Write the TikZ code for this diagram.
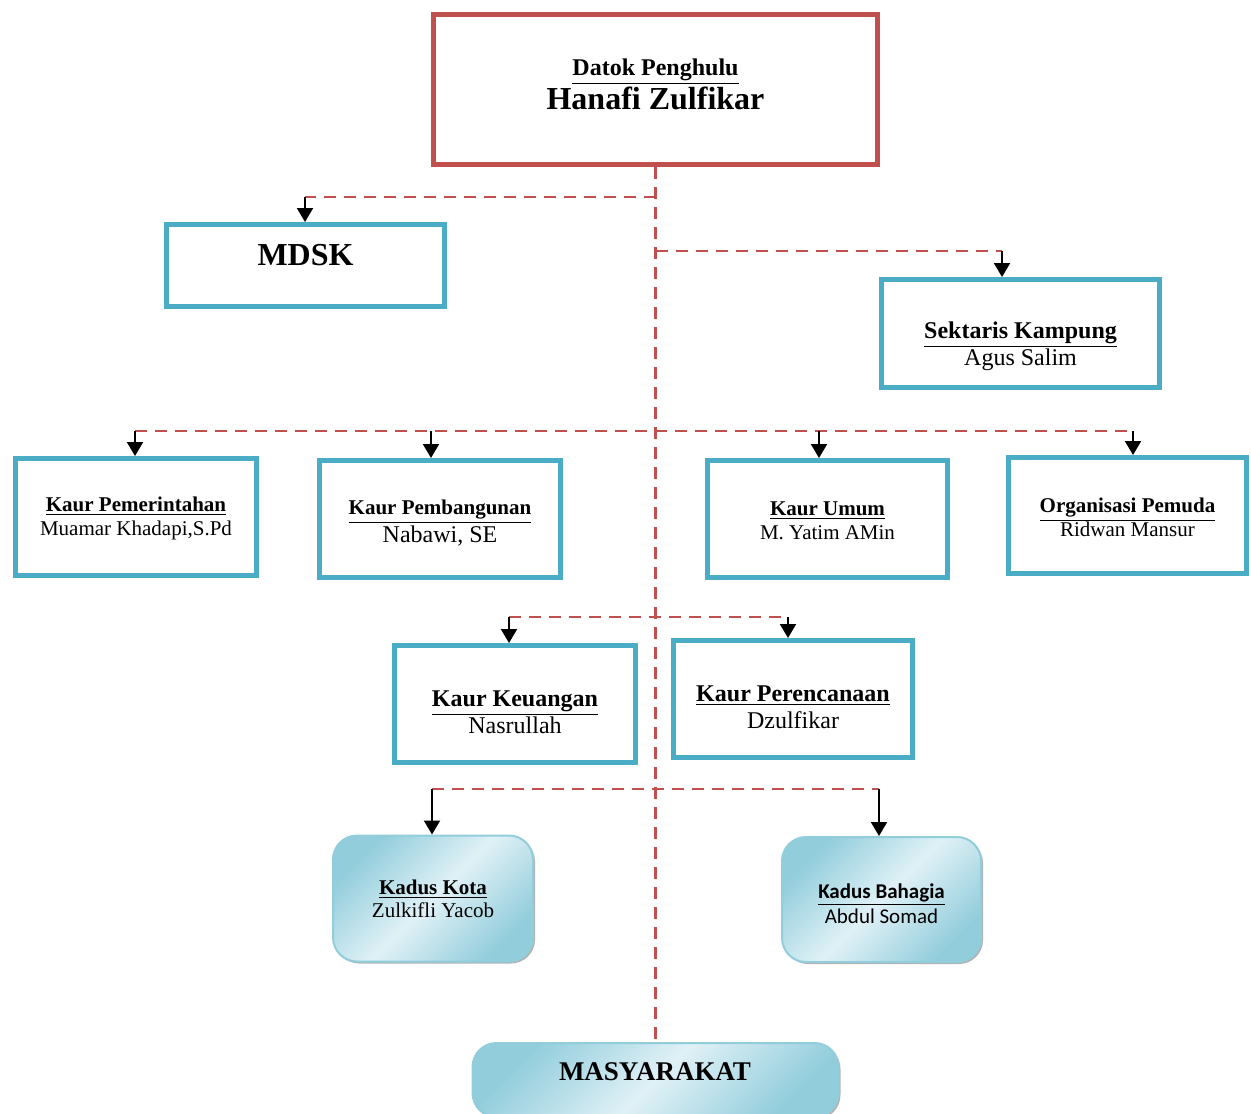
\documentclass[tikz,border=0pt]{standalone}
\usepackage{fontspec}
\setmainfont{Liberation Serif}
\newfontfamily\carlito{Carlito}
\usetikzlibrary{arrows.meta, positioning, shadows}
\definecolor{DeepRed}{RGB}{192,80,77}
\definecolor{SkyBlue}{RGB}{75,172,198}
\definecolor{PaleCyan}{RGB}{224,241,246}
\definecolor{SoftCyan}{RGB}{146,205,220}

\begin{document}
\begin{tikzpicture}[
          x=0.5pt, y=-0.5pt,
          chief/.style={rectangle, draw=DeepRed, line width=2.5pt, minimum width=222pt, minimum height=75pt},
          unit/.style={rectangle, draw=SkyBlue, line width=2.5pt, minimum width=120.5pt, minimum height=58.5pt},
          dusun/.style={rectangle, rounded corners=12pt, draw=SoftCyan, line width=1pt, top color=SoftCyan, bottom color=SoftCyan, middle color=PaleCyan, shading angle=45, drop shadow={shadow xshift=1pt, shadow yshift=-1pt, fill=black!60}, minimum width=100pt, minimum height=63pt},
          caption/.style={align=center, inner sep=0pt},
          link/.style={DeepRed, line width=1.2pt, dash pattern=on 6pt off 4pt},
          arrow/.style={-{Triangle[width=8pt,length=7pt]}, line width=1pt, black}
        ]
          \useasboundingbox (0,0) rectangle (1251,1113);

          % boxes
          \node (datok) [chief] at (655.5,89.5) {};
          \node (mdsk) [unit, minimum width=139pt, minimum height=41pt] at (305.5,265.5) {};
          \node (sek) [unit, minimum width=139pt, minimum height=54pt] at (1020.5,333.5) {};
          \node (pem) [unit] at (136,517) {};
          \node (pemb) [unit] at (440,519) {};
          \node (umum) [unit, minimum width=120pt] at (827.5,519) {};
          \node (org) [unit, minimum width=119pt, minimum height=58pt] at (1127.5,515.5) {};
          \node (keu) [unit] at (515,704) {};
          \node (per) [unit, minimum width=119.5pt] at (793,699) {};
          \node (kota) [dusun] at (433,898.5) {};
          \node (bahagia) [dusun, minimum width=99.5pt, minimum height=62.5pt] at (881.5,899.5) {};
          \node (masy) [dusun, minimum width=183pt, minimum height=37pt] at (655.5,1080) {};

          % texts
          \node (datok-txt) [caption] at (655.5,84) {{\fontsize{12}{14}\selectfont\bfseries\underline{Datok Penghulu}}\\{\fontsize{16}{18}\selectfont\bfseries Hanafi Zulfikar}};
          \node (mdsk-txt) [caption, font=\fontsize{16}{18}\selectfont\bfseries] at (305.5,255) {MDSK};
          \node (sek-txt) [caption, font=\fontsize{12}{13.5}\selectfont] at (1020.5,346.5) {\textbf{\underline{Sektaris Kampung}}\\Agus Salim};
          \node (pem-txt) [caption, font=\fontsize{10.5}{12}\selectfont] at (136,518.5) {\textbf{\underline{Kaur Pemerintahan}}\\Muamar Khadapi,S.Pd};
          \node (pemb-txt) [caption] at (440,523) {{\fontsize{10.5}{12}\selectfont\bfseries\underline{Kaur Pembangunan}}\\{\fontsize{12}{14}\selectfont Nabawi, SE}};
          \node (umum-txt) [caption, font=\fontsize{10.5}{12}\selectfont] at (827.5,521) {\textbf{\underline{Kaur Umum}}\\M. Yatim AMin};
          \node (org-txt) [caption, font=\fontsize{10.5}{12}\selectfont] at (1127.5,517.5) {\textbf{\underline{Organisasi Pemuda}}\\Ridwan Mansur};
          \node (keu-txt) [caption, font=\fontsize{12}{13.5}\selectfont] at (515,712) {\textbf{\underline{Kaur Keuangan}}\\Nasrullah};
          \node (per-txt) [caption, font=\fontsize{12}{13.5}\selectfont] at (793,707) {\textbf{\underline{Kaur Perencanaan}}\\Dzulfikar};
          \node (kota-txt) [caption, font=\fontsize{10.5}{11.5}\selectfont] at (433,898.5) {\textbf{\underline{Kadus Kota}}\\Zulkifli Yacob};
          \node (bahagia-txt) [caption, font=\carlito\fontsize{10.5}{12.5}\selectfont] at (881.5,903.5) {\textbf{\underline{Kadus Bahagia}}\\Abdul Somad};
          \node (masy-txt) [caption, font=\fontsize{13.5}{15}\selectfont\bfseries] at (655,1072) {MASYARAKAT};

          % junctions on the dashed lines
          \coordinate (j-mdsk) at (305,197);
          \coordinate (j-sek) at (1002,251);
          \coordinate (j-pem) at (135,431);
          \coordinate (j-pemb) at (431,431);
          \coordinate (j-umum) at (819,431);
          \coordinate (j-org) at (1133,431);
          \coordinate (j-keu) at (509,617);
          \coordinate (j-per) at (788,617);
          \coordinate (j-kota) at (432,789);
          \coordinate (j-bahagia) at (879,789);

          \draw [link] (datok.south) -- (masy.north);
          \draw [link] (datok.south |- j-mdsk) -- (j-mdsk);
          \draw [link] (datok.south |- j-sek) -- (j-sek);
          \draw [link] (j-pem) -- (j-org);
          \draw [link] (j-keu) -- (j-per);
          \draw [link] (j-kota) -- (j-bahagia);

          \draw [arrow] (j-mdsk) -- (j-mdsk |- mdsk.north);
          \draw [arrow] (j-sek) -- (j-sek |- sek.north);
          \draw [arrow] (j-pem) -- (j-pem |- pem.north);
          \draw [arrow] (j-pemb) -- (j-pemb |- pemb.north);
          \draw [arrow] (j-umum) -- (j-umum |- umum.north);
          \draw [arrow] (j-org) -- (j-org |- org.north);
          \draw [arrow] (j-keu) -- (j-keu |- keu.north);
          \draw [arrow] (j-per) -- (j-per |- per.north);
          \draw [arrow] (j-kota) -- (j-kota |- kota.north);
          \draw [arrow] (j-bahagia) -- (j-bahagia |- bahagia.north);
        \end{tikzpicture}
\end{document}
